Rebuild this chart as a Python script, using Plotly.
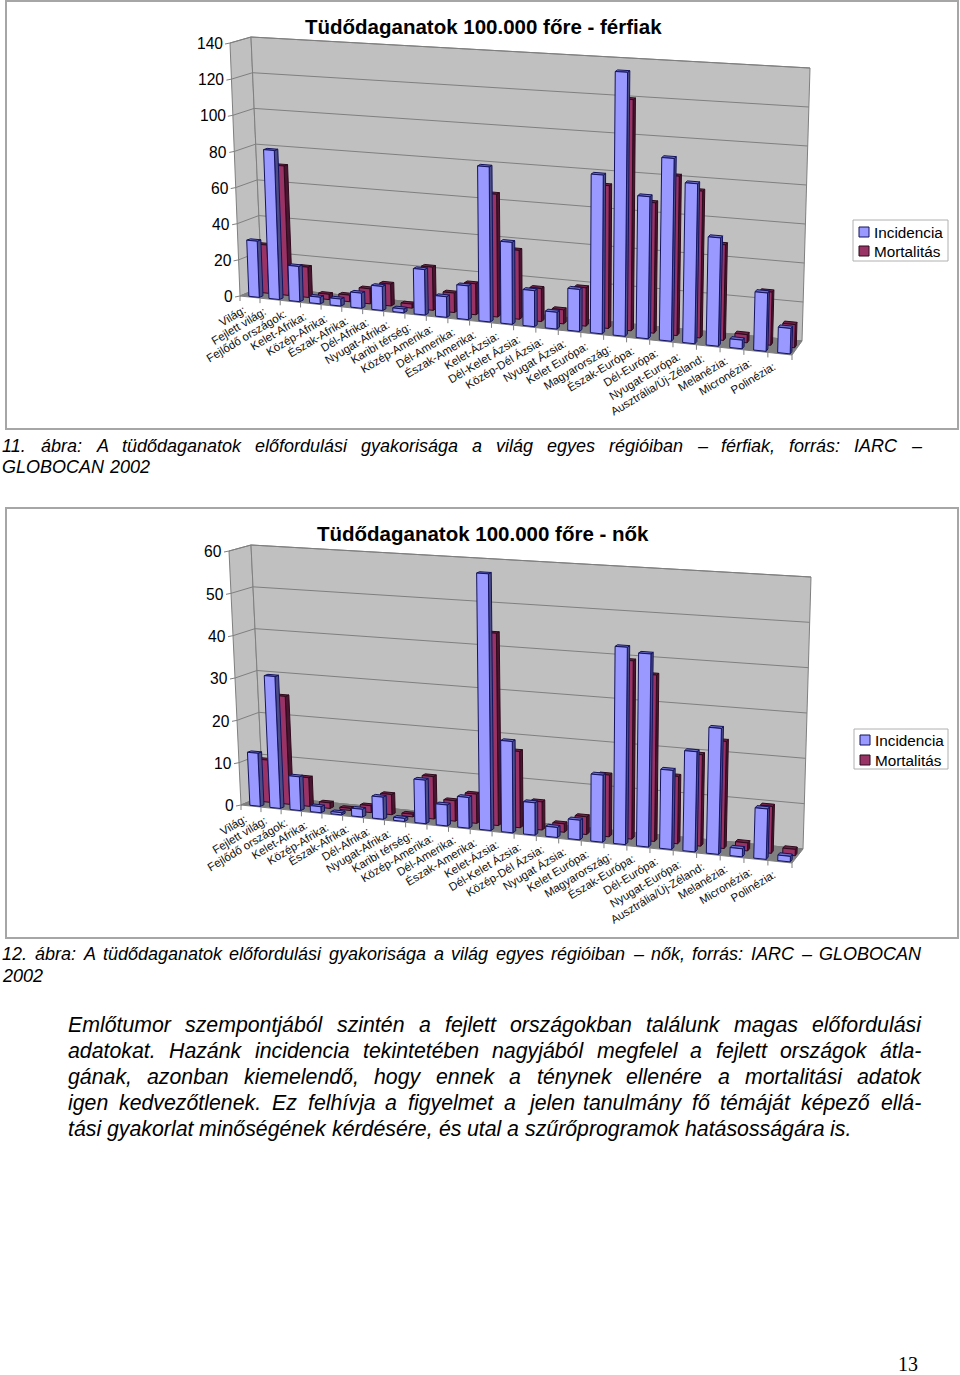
import plotly.graph_objects as go

categories = ["Világ:", "Fejlett világ:", "Fejlődő országok:", "Kelet-Afrika:", "Közép-Afrika:",
              "Észak-Afrika:", "Dél-Afrika:", "Nyugat-Afrika:", "Karibi térség:", "Közép-Amerika:",
              "Dél-Amerika:", "Észak-Amerika:", "Kelet-Ázsia:", "Dél-Kelet Ázsia:", "Közép-Dél Ázsia:",
              "Nyugat Ázsia:", "Kelet Európa:", "Magyarország:", "Észak-Európa:", "Dél-Európa:",
              "Nyugat-Európa:", "Ausztrália/Új-Zéland:", "Melanézia:", "Micronézia:", "Polinézia:"]

men_incidence = [31, 82, 19.3, 3.6, 3.8, 8.2, 13, 2, 24.4, 11, 18, 82.5, 43.4,
                 19, 8.8, 22, 83, 137.5, 73.7, 94.5, 82.4, 55.6, 4.4, 29.7, 12.9]
men_mortality = [26.8, 71.6, 16.7, 2.9, 3.6, 8.2, 11.9, 2.2, 23.3, 10.5, 16.6, 65.6, 36.7,
                 17.5, 7.4, 20.2, 75, 121, 68, 82.8, 76, 49.3, 4.2, 27.2, 11.8]
women_incidence = [12.5, 31, 7.9, 1.4, 0.5, 1.8, 5.1, 0.7, 10, 4.8, 7, 58.4, 20.7,
                   7.3, 2.25, 4.4, 15, 44, 42.9, 17.5, 22.1, 27.7, 1.76, 11, 1.2]
women_mortality = [10, 25.5, 6.75, 1.3, 0.5, 1.6, 4.7, 0.6, 9.8, 4.7, 6.7, 44, 17.4,
                   6.4, 1.9, 4, 13.9, 40, 37.2, 15, 20.3, 23.7, 1.76, 10.3, 1.4]

men_ticks = [0, 20, 40, 60, 80, 100, 120, 140]
women_ticks = [0, 10, 20, 30, 40, 50, 60]

men_title = "Tüdődaganatok 100.000 főre - férfiak"
women_title = "Tüdődaganatok 100.000 főre - nők"
series_names = ["Incidencia", "Mortalitás"]

caption_men = ["11. ábra: A tüdődaganatok előfordulási gyakorisága a világ egyes régióiban – férfiak, forrás: IARC –",
               "GLOBOCAN 2002"]
caption_women = ["12. ábra: A tüdődaganatok előfordulási gyakorisága a világ egyes régióiban – nők, forrás: IARC – GLOBOCAN",
                 "2002"]
body_lines = ["Emlőtumor szempontjából szintén a fejlett országokban találunk magas előfordulási",
              "adatokat. Hazánk incidencia tekintetében nagyjából megfelel a fejlett országok átla-",
              "gának, azonban kiemelendő, hogy ennek a ténynek ellenére a mortalitási adatok",
              "igen kedvezőtlenek. Ez felhívja a figyelmet a jelen tanulmány fő témáját képező ellá-",
              "tási gyakorlat minőségének kérdésére, és utal a szűrőprogramok hatásosságára is."]

# --- styling and geometry ---
FONT = "Liberation Sans"
C_INC = dict(front="#9999FF", side="#4D4D85", top="#6F6FC4", line="#14145F")
C_MOR = dict(front="#993366", side="#4A1530", top="#6E2348", line="#2E0A1C")
WALL, FLOOR, GRID = "#C0C0C0", "#808080", "#7F7F7F"

# corners of the drawn box: (front/back, left/right, bottom/top)
BOX_MEN = dict(fl=(240, 296), fr=(792, 355), bl=(262, 287), br=(802, 341),
               flt=(230, 43), frt=(800, 79), blt=(251, 37), brt=(810, 68))
BOX_WOMEN = dict(fl=(241, 805), fr=(792, 863), bl=(263, 796), br=(803, 849),
                 flt=(229, 551), frt=(801, 587), blt=(251, 545), brt=(811, 577))

U0, U1 = 0.38, 0.90          # bar extent within a category slot
DEPTHS = [(0.06, 0.23), (0.50, 0.67)]
PERSP_A, PERSP_B = 19.89, 0.086   # the slots widen to the right


def warp(k):
    """Position along the floor of slot coordinate k (0..number of slots)."""
    n = len(categories)
    return (PERSP_A * k + PERSP_B * k * k) / (PERSP_A * n + PERSP_B * n * n)


def project(box, k, d, v):
    """Map (slot coordinate, depth, height) into the picture."""
    u = warp(k)
    out = []
    for c in (0, 1):
        lo = (1 - d) * ((1 - u) * box["fl"][c] + u * box["fr"][c]) + d * ((1 - u) * box["bl"][c] + u * box["br"][c])
        hi = (1 - d) * ((1 - u) * box["flt"][c] + u * box["frt"][c]) + d * ((1 - u) * box["blt"][c] + u * box["brt"][c])
        out.append((1 - v) * lo + v * hi)
    return out


def poly(box, pts):
    xs, ys = [], []
    for p in pts + [pts[0]]:
        x, y = project(box, *p)
        xs.append(x)
        ys.append(y)
    return xs, ys


fig = go.Figure()
annotations = []
shapes = []


def add_fill(xs, ys, fill, line, width=1, name=""):
    fig.add_trace(go.Scatter(x=xs, y=ys, mode="lines", fill="toself", fillcolor=fill,
                             line=dict(color=line, width=width), showlegend=False,
                             hoverinfo="skip", name=name))


def add_text(text, x, y, size, xanchor="center", yanchor="middle", angle=0, color="#000000", family=FONT):
    annotations.append(dict(text=text, x=x, y=y, xref="x", yref="y", showarrow=False, xanchor=xanchor,
                            yanchor=yanchor, textangle=angle, borderpad=0, borderwidth=0,
                            font=dict(family=family, size=size, color=color)))


def draw_chart(box, incidence, mortality, ticks, title, title_xy, frame, legend_box, legend_rows):
    vmax = float(ticks[-1])
    n = len(categories)
    shapes.append(dict(type="rect", xref="x", yref="y", x0=frame[0], x1=frame[2], y0=frame[1], y1=frame[3],
                       line=dict(color="#A6A6A6", width=2), fillcolor="white", layer="below"))
    # walls and floor
    add_fill(*poly(box, [(0, 0, 0), (0, 1, 0), (0, 1, 1), (0, 0, 1)]), WALL, GRID)
    add_fill(*poly(box, [(0, 1, 0), (n, 1, 0), (n, 1, 1), (0, 1, 1)]), WALL, GRID)
    add_fill(*poly(box, [(0, 0, 0), (n, 0, 0), (n, 1, 0), (0, 1, 0)]), FLOOR, GRID)
    # gridlines, value ticks and labels
    for t in ticks:
        v = t / vmax
        a, b, c = project(box, 0, 0, v), project(box, 0, 1, v), project(box, n, 1, v)
        fig.add_trace(go.Scatter(x=[a[0] - 5, a[0], b[0], c[0]], y=[a[1] + 1, a[1], b[1], c[1]], mode="lines",
                                 line=dict(color=GRID, width=1), showlegend=False, hoverinfo="skip"))
        add_text(str(t), a[0] - 7, a[1] + 0.7, 15.6, xanchor="right")
    # category ticks
    for i in range(n + 1):
        a = project(box, i, 0, 0)
        fig.add_trace(go.Scatter(x=[a[0], a[0]], y=[a[1], a[1] + 5], mode="lines",
                                 line=dict(color=GRID, width=1), showlegend=False, hoverinfo="skip"))
    # bars: back series first, so that the front series covers it
    for values, depth, col, name in ((mortality, DEPTHS[1], C_MOR, series_names[1]),
                                     (incidence, DEPTHS[0], C_INC, series_names[0])):
        d0, d1 = depth
        fx, fy, sx, sy, tx, ty = [], [], [], [], [], []
        for i, val in enumerate(values):
            k0, k1 = i + U0, i + U1
            v = val / vmax
            x, y = poly(box, [(k0, d0, 0), (k1, d0, 0), (k1, d0, v), (k0, d0, v)])
            fx += x + [None]; fy += y + [None]
            x, y = poly(box, [(k1, d0, 0), (k1, d1, 0), (k1, d1, v), (k1, d0, v)])
            sx += x + [None]; sy += y + [None]
            x, y = poly(box, [(k0, d0, v), (k1, d0, v), (k1, d1, v), (k0, d1, v)])
            tx += x + [None]; ty += y + [None]
        add_fill(sx, sy, col["side"], col["line"], name=name)
        add_fill(tx, ty, col["top"], col["line"], name=name)
        add_fill(fx, fy, col["front"], col["line"], name=name)
    # category labels
    for i, cat in enumerate(categories):
        a = project(box, i + 0.5, 0, 0)
        add_text(cat, a[0] - 2, a[1] + 6, 11.5, xanchor="right", yanchor="top", angle=-31, color="#111111")
    add_text("<b>%s</b>" % title, title_xy[0], title_xy[1], 20.5)
    # legend
    shapes.append(dict(type="rect", xref="x", yref="y", x0=legend_box[0], x1=legend_box[2], y0=legend_box[1],
                       y1=legend_box[3], line=dict(color="#B0B0B0", width=1), fillcolor="white", layer="below"))
    for (name, col), ry in zip(zip(series_names, (C_INC, C_MOR)), legend_rows):
        fig.add_trace(go.Scatter(x=[legend_box[0] + 11], y=[ry], mode="markers", showlegend=False, hoverinfo="skip",
                                 marker=dict(symbol="square", size=10, color=col["front"],
                                             line=dict(color=col["line"], width=1))))
        add_text(name, legend_box[0] + 21, ry, 15.3, xanchor="left")


# Arial / Liberation Sans advance widths, for justified lines
W = dict(zip("abcdefghijklmnopqrstuvwxyz", [556, 556, 500, 556, 556, 278, 556, 556, 222, 222, 500, 222, 833,
                                            556, 556, 556, 556, 333, 500, 278, 556, 500, 722, 500, 500, 500]))
W.update(dict(zip("ABCDEFGHIJKLMNOPQRSTUVWXYZ", [667, 667, 722, 722, 667, 611, 778, 722, 278, 500, 667, 556, 833,
                                                 722, 778, 667, 778, 722, 667, 611, 722, 667, 944, 667, 667, 611])))
W.update({".": 278, ",": 278, ":": 278, "-": 333, "–": 556, "/": 278})
PLAIN = str.maketrans("áéíóöőúüűÁÉÍÓÖŐÚÜŰ", "aeiooouuuAEIOOOUUU")


def word_w(word, size):
    return sum(W.get(ch, 556) for ch in word.translate(PLAIN)) * size / 1000.0


def text_line(line, x0, y, size, x1=None):
    words = line.split(" ")
    total = sum(word_w(w, size) for w in words)
    gap = 0.278 * size if x1 is None or len(words) < 2 else (x1 - x0 - total) / (len(words) - 1)
    x = x0
    for w in words:
        add_text("<i>%s</i>" % w, x, y, size, xanchor="left")
        x += word_w(w, size) + gap


draw_chart(BOX_MEN, men_incidence, men_mortality, men_ticks, men_title, (483, 26),
           (6, 1, 958, 429), (853, 220, 948, 261), (232, 251))
draw_chart(BOX_WOMEN, women_incidence, women_mortality, women_ticks, women_title, (483, 533),
           (6, 508, 958, 938), (854, 729, 948, 769), (740, 760))

CAP = 18.0
BODY = 21.3
text_line(caption_men[0], 2, 446, CAP, 921)
text_line(caption_men[1], 2, 467, CAP)
text_line(caption_women[0], 2, 954, CAP, 921)
text_line(caption_women[1], 2, 976, CAP)
for k, line in enumerate(body_lines):
    text_line(line, 68, 1025 + 26 * k, BODY, 921 if k < 4 else None)
add_text("13", 908, 1364, 20, family="Liberation Serif")

fig.update_layout(width=960, height=1375, margin=dict(l=0, r=0, t=0, b=0), paper_bgcolor="white",
                  plot_bgcolor="white", showlegend=False, annotations=annotations, shapes=shapes,
                  xaxis=dict(range=[0, 960], visible=False, fixedrange=True),
                  yaxis=dict(range=[1375, 0], visible=False, fixedrange=True))
fig.write_html("out.html", config={"displayModeBar": False}, post_script="document.body.style.margin='0';")
